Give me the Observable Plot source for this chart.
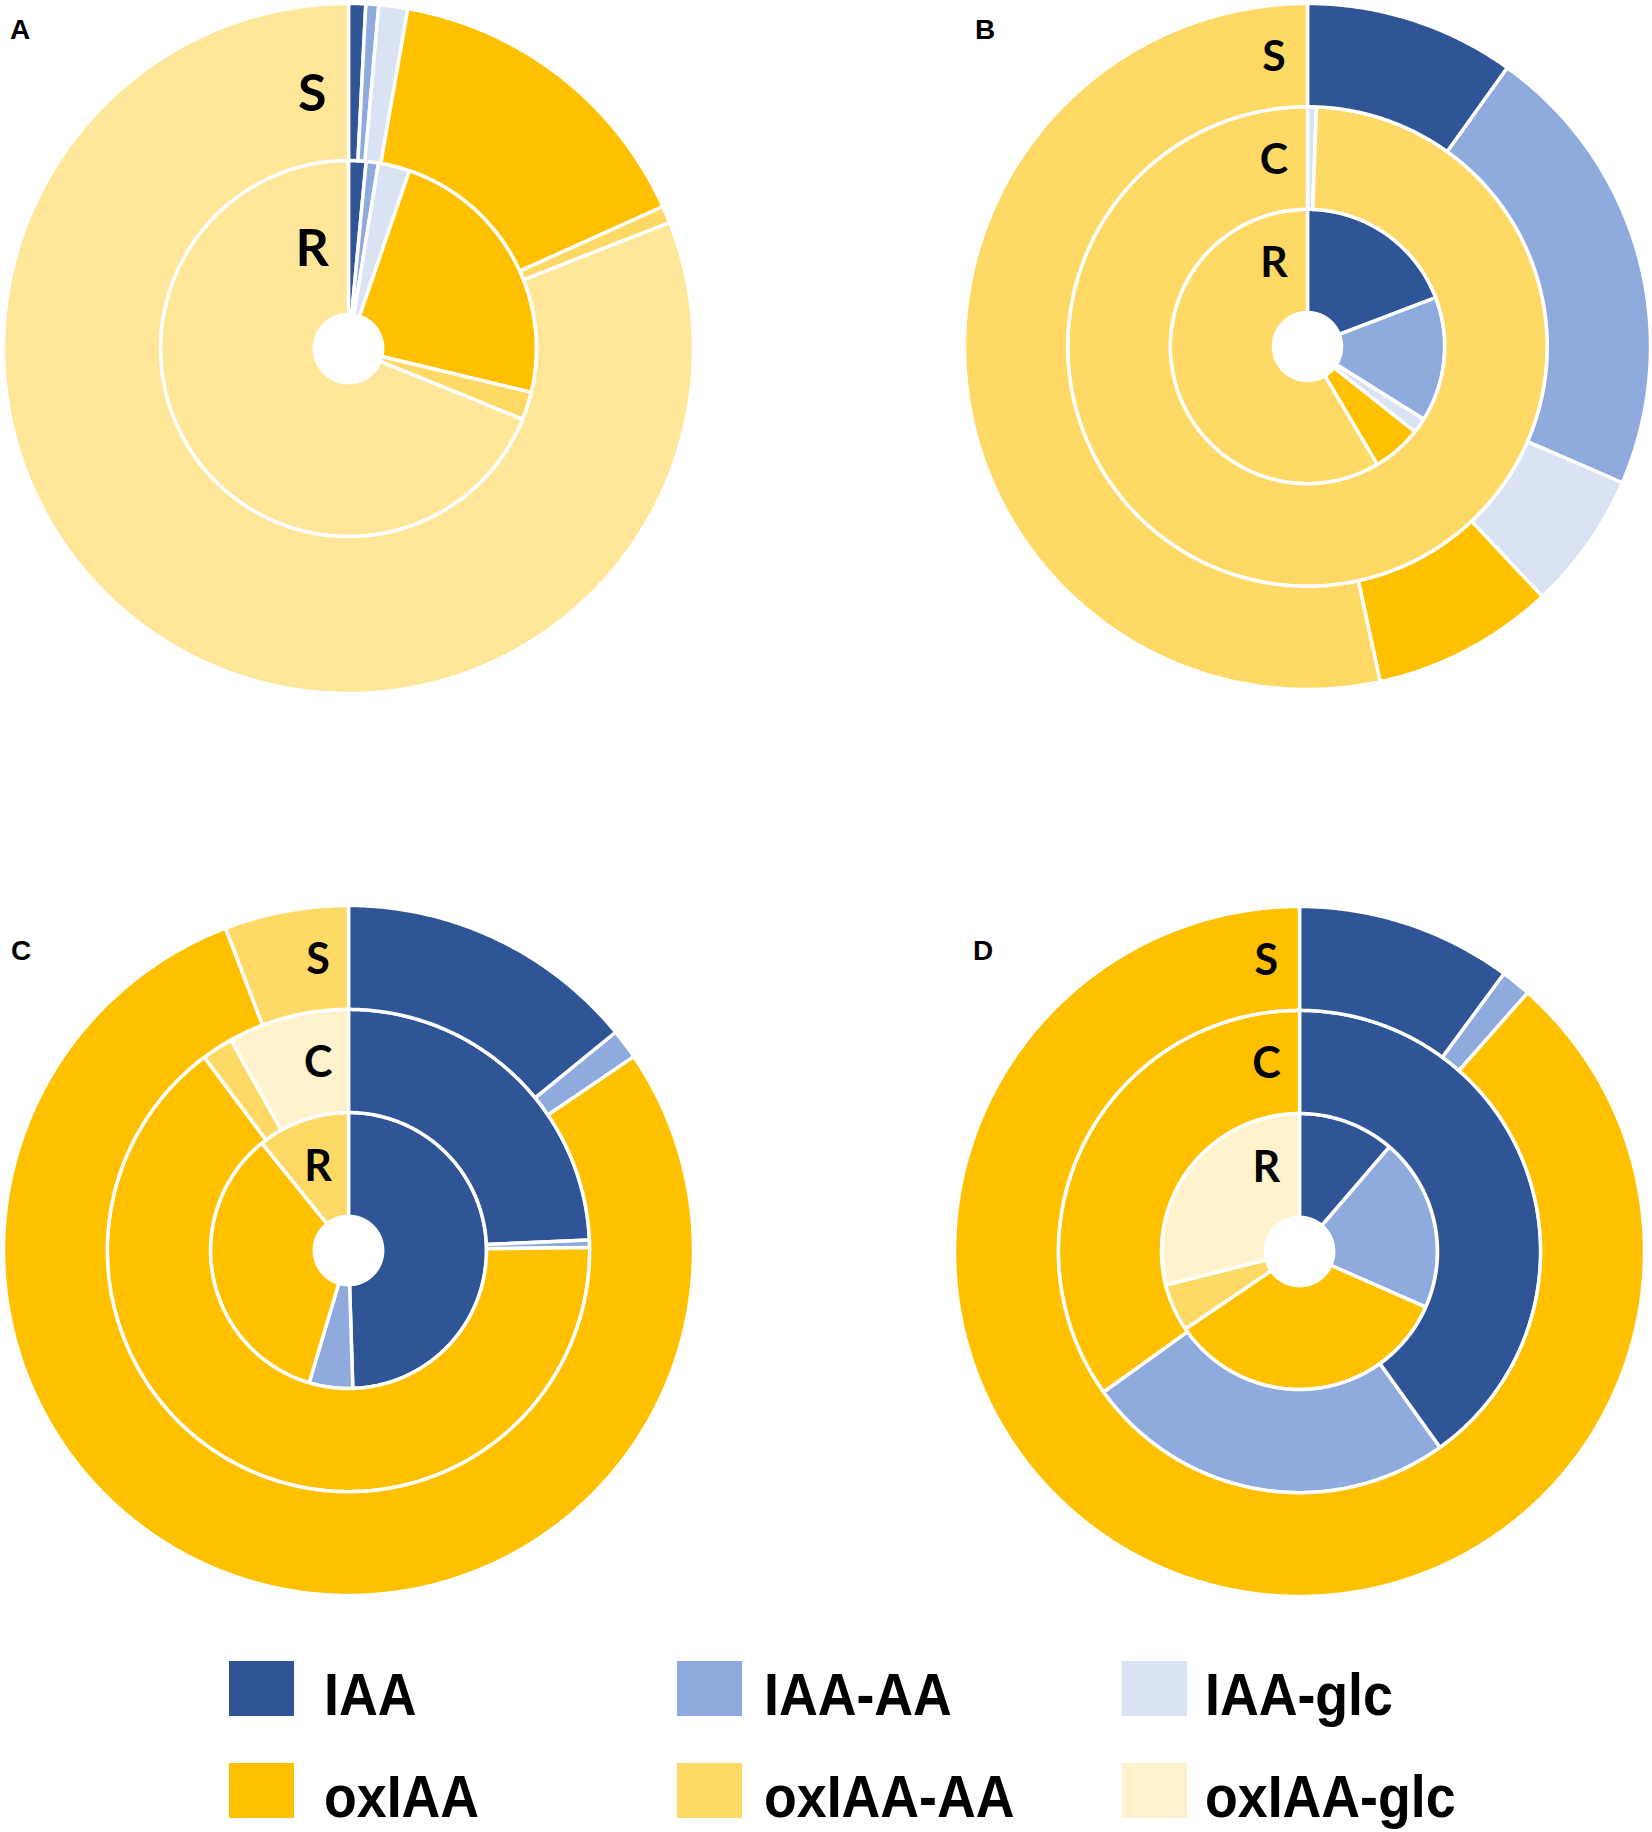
<!DOCTYPE html>
<html>
<head>
<meta charset="utf-8">
<script src="https://cdn.jsdelivr.net/npm/d3@7"></script>
<script src="https://cdn.jsdelivr.net/npm/@observablehq/plot@0.6"></script>
<style>
  html, body { margin: 0; padding: 0; background: #fff; }
  #page { position: relative; width: 1652px; height: 1832px; overflow: hidden; background: #fff; }
  .panel { position: absolute; }
  #overlay { position: absolute; left: 0; top: 0; pointer-events: none; }
</style>
</head>
<body>
<div id="page"></div>
<script>
// ---------------- data ----------------
const species = ["IAA", "IAA-AA", "IAA-glc", "oxIAA", "oxIAA-AA", "oxIAA-glc"];
const colors  = ["#2F5597", "#8FAADC", "#DAE3F3", "#FFC000", "#FFD966", "#FFF2CC"];
const colorsA = ["#2F5597", "#8FAADC", "#DAE3F3", "#FFC000", "#FFD966", "#FFE699"];

const panelNames = ["A", "B", "C", "D"];
const ringsA = ["R", "S"];
const ringsBCD = ["R", "C", "S"];

// percentages per ring, in species order (inner ring first)
const A_R = [1.5, 1.05, 2.7, 23.5, 2.4, 68.85];
const A_S = [0.8, 0.6, 1.35, 15.5, 0.8, 80.95];

const B_R = [19.2, 14.7, 1.8, 5.8, 58.5, 0];
const B_C = [0, 0, 0.6, 0, 99.4, 0];
const B_S = [9.9, 21.6, 6.5, 8.6, 53.4, 0];

const C_R = [49.5, 5.1, 0, 34.6, 10.8, 0];
const C_C = [24.3, 0.5, 0, 65.0, 2.1, 8.1];
const C_S = [14.1, 1.4, 0, 78.7, 5.8, 0];

const D_R = [11.3, 20.3, 0, 33.9, 5.6, 28.9];
const D_C = [40.1, 25.0, 0, 34.9, 0, 0];
const D_S = [10.1, 1.4, 0, 88.5, 0, 0];

// ---------------- layout ----------------
const panels = [
  {name: "A", rings: ringsA,   values: [A_R, A_S],      radii: [0.099, 0.545, 1], labelF: 0.42, palette: colorsA, cx: 348,  cy: 348,  lx: 10,  ly: 39,  fs: 52, lxOff: -0.105},
  {name: "B", rings: ringsBCD, values: [B_R, B_C, B_S], radii: [0.099, 0.40, 0.699, 1], labelF: 0.475, palette: colors, cx: 1309, cy: 348,  lx: 975, ly: 39,  fs: 43, lxOff: -0.098},
  {name: "C", rings: ringsBCD, values: [C_R, C_C, C_S], radii: [0.099, 0.40, 0.699, 1], labelF: 0.475, palette: colors, cx: 348,  cy: 1250, lx: 11,  ly: 960, fs: 43, lxOff: -0.088},
  {name: "D", rings: ringsBCD, values: [D_R, D_C, D_S], radii: [0.099, 0.40, 0.699, 1], labelF: 0.475, palette: colors, cx: 1299, cy: 1251, lx: 973, ly: 960, fs: 43, lxOff: -0.096}
];

const SIZE = 694; // plot size; unit radius = (SIZE - 2*inset)/2 = 345px

function ringFeatures(values, r0, r1, ring) {
  const total = d3.sum(values);
  let acc = 0;
  const feats = [];
  values.forEach((v, i) => {
    const a0 = acc / total * 2 * Math.PI;
    acc += v;
    const a1 = acc / total * 2 * Math.PI;
    if (!(v > 0)) return;
    const n = Math.max(2, Math.ceil((a1 - a0) / (Math.PI / 360)));
    const angles = d3.range(n + 1).map(k => a0 + (a1 - a0) * k / n);
    const coords = [
      ...angles.map(a => [r1 * Math.sin(a), -r1 * Math.cos(a)]),
      ...angles.slice().reverse().map(a => [r0 * Math.sin(a), -r0 * Math.cos(a)])
    ];
    coords.push(coords[0]);
    feats.push({
      type: "Feature",
      properties: {species: species[i], ring, value: v},
      geometry: {type: "Polygon", coordinates: [coords]}
    });
  });
  return feats;
}

const page = document.getElementById("page");

panels.forEach(p => {
  const feats = [];
  const labels = [];
  p.rings.forEach((ring, k) => {
    const r0 = p.radii[k], r1 = p.radii[k + 1];
    feats.push(...ringFeatures(p.values[k], r0, r1, ring));
    labels.push({name: ring, x: p.lxOff, y: -(r0 + p.labelF * (r1 - r0))});
  });

  const chart = Plot.plot({
    width: SIZE,
    height: SIZE,
    margin: 0,
    style: {background: "transparent", overflow: "visible"},
    projection: {
      type: "identity",
      domain: {type: "MultiPoint", coordinates: [[-1, -1], [1, 1]]},
      inset: 2
    },
    color: {domain: species, range: p.palette},
    marks: [
      Plot.geo(feats, {
        fill: d => d.properties.species,
        stroke: "white",
        strokeWidth: 3.5,
        strokeLinejoin: "round"
      }),
      Plot.text(labels, {
        x: "x", y: "y", text: "name",
        fontSize: p.fs, fontWeight: 700, fontFamily: "Lato, 'Open Sans', sans-serif",
        fill: "black", textAnchor: "middle"
      })
    ]
  });
  const wrap = document.createElement("div");
  wrap.className = "panel";
  wrap.style.left = (p.cx - SIZE / 2) + "px";
  wrap.style.top = (p.cy - SIZE / 2) + "px";
  wrap.appendChild(chart);
  page.appendChild(wrap);
});

// ---------------- overlay: panel letters + legend ----------------
const svg = d3.select(page).append("svg")
  .attr("id", "overlay")
  .attr("width", 1652).attr("height", 1832);

svg.selectAll("text.panel-letter")
  .data(panels)
  .join("text")
  .attr("class", "panel-letter")
  .attr("x", d => d.lx).attr("y", d => d.ly)
  .attr("font-family", "'Liberation Sans', Arial, sans-serif")
  .attr("font-weight", 700)
  .attr("font-size", 28)
  .attr("fill", "black")
  .text(d => d.name);

const legendCols = [{sq: 229, tx: 324}, {sq: 677, tx: 764}, {sq: 1122, tx: 1205}];
const legendRows = [{top: 1661, base: 1715}, {top: 1763, base: 1817}];
const legendItems = species.map((s, i) => ({
  name: s, color: colors[i],
  col: legendCols[i % 3], row: legendRows[Math.floor(i / 3)]
}));

const lg = svg.append("g");
lg.selectAll("rect")
  .data(legendItems)
  .join("rect")
  .attr("x", d => d.col.sq).attr("y", d => d.row.top)
  .attr("width", 65).attr("height", 55)
  .attr("fill", d => d.color);

lg.selectAll("text")
  .data(legendItems)
  .join("text")
  .attr("transform", d => `translate(${d.col.tx},${d.row.base}) scale(0.91,1)`)
  .attr("font-family", "'Liberation Sans', Arial, sans-serif")
  .attr("font-weight", 700)
  .attr("font-size", 59)
  .attr("fill", "black")
  .text(d => d.name);
</script>
</body>
</html>
